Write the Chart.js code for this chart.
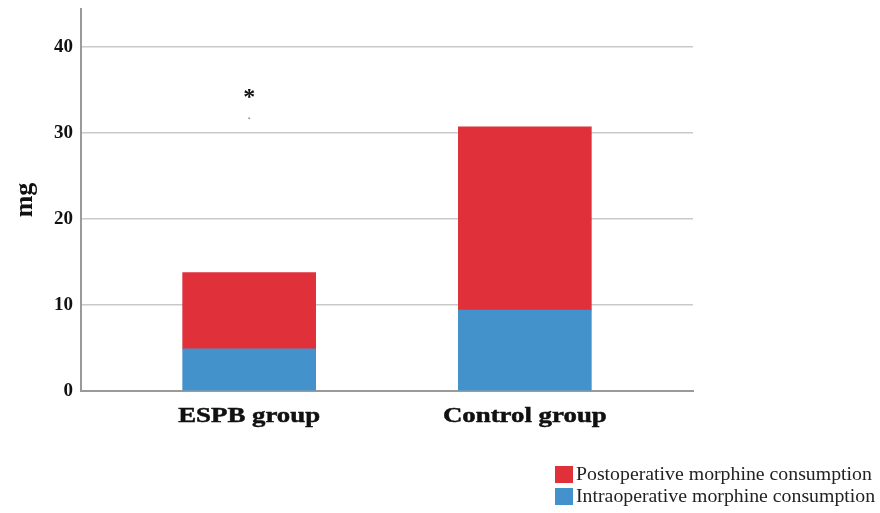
<!DOCTYPE html>
<html>
<head>
<meta charset="utf-8">
<script src="https://cdn.jsdelivr.net/npm/chart.js@4/dist/chart.umd.min.js"></script>
<style>
  html, body { margin: 0; padding: 0; background: #fff; }
  #wrap { width: 880px; height: 513px; }
</style>
</head>
<body>
<div id="wrap"><canvas id="c" width="880" height="513"></canvas></div>
<script>
// Group names and mean morphine use (mg) per phase
const categories = ['ESPB group', 'Control group'];
const intraoperative = [4.9, 9.4];
const postoperative = [8.85, 21.3];
const yTicks = [0, 10, 20, 30, 40];
const seriesLabels = ['Intraoperative morphine consumption', 'Postoperative morphine consumption'];
const significance = ['*', ''];

const RED = '#e0313b';
const BLUE = '#4492cb';
const SERIF = '"Liberation Serif", "Times New Roman", serif';

// Draw text stretched horizontally around its anchor point
function wideText(ctx, text, x, y, stretch, align, stroke) {
  ctx.save();
  ctx.translate(x, y);
  ctx.scale(stretch, 1);
  ctx.textAlign = align;
  ctx.fillText(text, 0, 0);
  if (stroke) {
    ctx.lineWidth = stroke;
    ctx.strokeStyle = ctx.fillStyle;
    ctx.strokeText(text, 0, 0);
  }
  ctx.restore();
}

// Category names under the bars
const categoryLabels = {
  id: 'categoryLabels',
  afterDraw(chart) {
    const { ctx, scales } = chart;
    ctx.save();
    ctx.fillStyle = '#111';
    ctx.font = 'bold 22px ' + SERIF;
    ctx.textBaseline = 'alphabetic';
    categories.forEach((c, i) => {
      wideText(ctx, c, scales.x.getPixelForValue(i), scales.y.bottom + 31, 1.22, 'center', 0.5);
    });
    ctx.restore();
  }
};

// Asterisk over significantly different groups, plus the small mark beneath it
const sigPlugin = {
  id: 'sig',
  afterDatasetsDraw(chart) {
    const { ctx, scales } = chart;
    significance.forEach((s, i) => {
      if (!s) return;
      const x = scales.x.getPixelForValue(i);
      const y = scales.y.getPixelForValue(34.5);
      ctx.save();
      ctx.fillStyle = '#111';
      ctx.font = 'bold 24px ' + SERIF;
      ctx.textAlign = 'center';
      ctx.textBaseline = 'middle';
      ctx.fillText(s, x, y + 4);
      ctx.fillStyle = '#999';
      ctx.beginPath();
      ctx.arc(x, scales.y.getPixelForValue(31.7), 1, 0, Math.PI * 2);
      ctx.fill();
      ctx.restore();
    });
  }
};

// Legend drawn as a stacked list at the bottom right (top series first)
const legendPlugin = {
  id: 'stackLegend',
  afterDraw(chart) {
    const { ctx } = chart;
    const items = chart.data.datasets.slice().reverse();
    ctx.save();
    ctx.font = '18px ' + SERIF;
    ctx.textBaseline = 'middle';
    items.forEach((ds, k) => {
      const top = 466 + k * 22;
      ctx.fillStyle = ds.backgroundColor;
      ctx.fillRect(555, top, 18, 17);
      ctx.fillStyle = '#222';
      wideText(ctx, ds.label, 576, top + 9, 1.1, 'left', 0);
    });
    ctx.restore();
  }
};

new Chart(document.getElementById('c'), {
  type: 'bar',
  data: {
    datasets: [
      {
        label: seriesLabels[0],
        data: intraoperative.map((v, i) => ({ x: i, y: v })),
        backgroundColor: BLUE,
        borderWidth: 0,
        barThickness: 133
      },
      {
        label: seriesLabels[1],
        data: postoperative.map((v, i) => ({ x: i, y: v })),
        backgroundColor: RED,
        borderWidth: 0,
        barThickness: 133
      }
    ]
  },
  plugins: [sigPlugin, categoryLabels, legendPlugin],
  options: {
    responsive: false,
    animation: false,
    events: [],
    layout: { padding: { top: 0, right: 187, left: 0, bottom: 0 } },
    plugins: { legend: { display: false }, tooltip: { enabled: false } },
    scales: {
      x: {
        type: 'linear',
        stacked: true,
        offset: false,
        min: -0.61,
        max: 1.61,
        afterBuildTicks(scale) { scale.ticks = categories.map((_, i) => ({ value: i })); },
        afterFit(scale) { scale.height = 122; scale.paddingLeft = 0; scale.paddingRight = 0; },
        grid: { display: false, drawTicks: false },
        border: { display: true, color: '#9a9a9a', width: 2 },
        ticks: { display: false }
      },
      y: {
        stacked: true,
        min: 0,
        max: 44.4,
        afterBuildTicks(scale) { scale.ticks = yTicks.map(v => ({ value: v })); },
        afterFit(scale) { scale.width = 81; scale.paddingTop = 9; scale.paddingBottom = 0; },
        grid: { color: '#c9c9c9', lineWidth: 1.5, drawTicks: false },
        border: { display: true, color: '#9a9a9a', width: 2 },
        ticks: {
          padding: 8,
          color: '#111',
          font: { family: SERIF, size: 19, weight: 'bold' }
        },
        title: {
          display: true,
          text: 'mg',
          color: '#111',
          padding: { top: 10, bottom: 0 },
          font: { family: SERIF, size: 26, weight: 'bold' }
        }
      }
    }
  }
});
</script>
</body>
</html>
